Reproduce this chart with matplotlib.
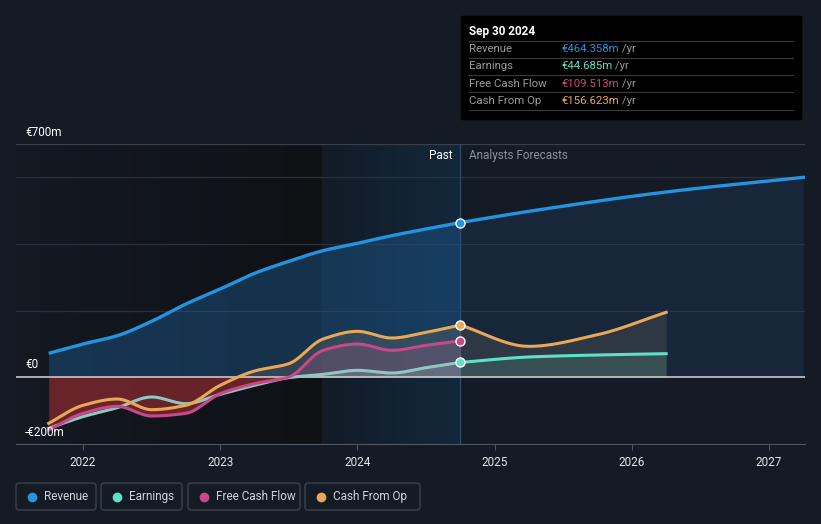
import matplotlib
matplotlib.use("Agg")
import matplotlib.pyplot as plt
import numpy as np
from matplotlib.patches import FancyBboxPatch, Rectangle

plt.rcParams['font.family'] = ['Roboto', 'DejaVu Sans']

# quarterly history (fraction of year), values in EUR m
past_dates = [2021.75, 2022.0, 2022.25, 2022.5, 2022.75, 2023.0, 2023.25,
              2023.5, 2023.75, 2024.0, 2024.25, 2024.5, 2024.75]
revenue = [72, 100, 125, 168, 220, 265, 312, 348, 380, 402, 425, 445, 464.358]
earnings = [-153, -118, -91, -59, -79, -51, -24, -1, 9, 21, 13, 29, 44.685]
fcf = [-158, -108, -87, -116, -108, -49, -19, 1, 81, 100, 81, 96, 109.513]
cfo = [-138, -84, -65, -97, -84, -24, 19, 41, 115, 138, 118, 135, 156.623]

# analyst forecasts
rev_fc_dates = [2024.75, 2025.25, 2026.25, 2027.25]
rev_fc = [464.358, 498, 556, 600]
earn_fc_dates = [2024.75, 2025.25, 2025.75, 2026.25]
earn_fc = [44.685, 61, 67, 71]
cfo_fc_dates = [2024.75, 2025.25, 2025.75, 2026.25]
cfo_fc = [156.623, 93, 128, 195]

years = [2022, 2023, 2024, 2025, 2026, 2027]
now = 2024.75

C_REV = '#2394df'
C_EARN = '#5fe0c8'
C_FCF = '#c8488a'
C_CFO = '#e8a857'
BG = '#151b25'


def smooth(xs, ys, n=30):
    # monotone cubic (Fritsch-Carlson) for drawing smooth lines
    xs = np.asarray(xs, float)
    ys = np.asarray(ys, float)
    h = np.diff(xs)
    d = np.diff(ys) / h
    m = np.zeros_like(ys)
    m[0], m[-1] = d[0], d[-1]
    for i in range(1, len(xs) - 1):
        if d[i - 1] * d[i] > 0:
            w1 = 2 * h[i] + h[i - 1]
            w2 = h[i] + 2 * h[i - 1]
            m[i] = (w1 + w2) / (w1 / d[i - 1] + w2 / d[i])
    ox, oy = [], []
    for i in range(len(xs) - 1):
        t = np.linspace(0, 1, n, endpoint=False)
        h00 = 2 * t**3 - 3 * t**2 + 1
        h10 = t**3 - 2 * t**2 + t
        h01 = -2 * t**3 + 3 * t**2
        h11 = t**3 - t**2
        ox.append(xs[i] + t * h[i])
        oy.append(h00 * ys[i] + h10 * h[i] * m[i] + h01 * ys[i + 1] + h11 * h[i] * m[i + 1])
    ox.append([xs[-1]])
    oy.append([ys[-1]])
    return np.concatenate(ox), np.concatenate(oy)


fig = plt.figure(figsize=(8.21, 5.24), dpi=100)
fig.patch.set_facecolor(BG)
ax = fig.add_axes([16 / 821, 80 / 524, 789 / 821, 300 / 524])
ax.set_facecolor(BG)
ax.set_xlim(2021.512, 2027.262)
ax.set_ylim(-200, 700)

# background regions
band_start = 2023.745
grad = np.linspace(0, 1, 256).reshape(1, -1)
dark = matplotlib.colors.LinearSegmentedColormap.from_list('d', ['#141922', '#0f1115'])
ax.imshow(grad, extent=[2021.512, band_start, -200, 700], aspect='auto', cmap=dark, zorder=0)
blue = matplotlib.colors.LinearSegmentedColormap.from_list('b', ['#121b26', '#13283c'])
ax.imshow(grad, extent=[band_start, now, -200, 700], aspect='auto', cmap=blue, zorder=0)

for g in [200, 400, 600]:
    ax.axhline(g, color='#2a313b', lw=0.9, zorder=1)
ax.axhline(700, color='#3a404a', lw=0.9, zorder=1)
ax.axvline(now, color='#2b4a68', lw=1.0, zorder=2)

# revenue
rx, ry = smooth(past_dates, revenue)
fx, fy = smooth(rev_fc_dates, rev_fc)
ax.fill_between(rx, 0, ry, color='#1d5a8f', alpha=0.45, lw=0, zorder=2)
ax.fill_between(fx, 0, fy, color='#1d4a78', alpha=0.25, lw=0, zorder=2)

ex, ey = smooth(past_dates, earnings)
px, py = smooth(past_dates, fcf)
cx, cy = smooth(past_dates, cfo)
ax.fill_between(cx, 0, cy, where=cy > 0, color='#9a8a70', alpha=0.22, lw=0, zorder=3)
ax.fill_between(px, 0, py, where=py > 0, color='#c86090', alpha=0.22, lw=0, zorder=3)
ax.fill_between(ex, 0, ey, where=ey > 0, color='#a0d0c8', alpha=0.22, lw=0, zorder=3)
low = np.minimum(np.minimum(ey, py), cy)
ax.fill_between(ex, 0, low, where=low < 0, color='#8e2a30', alpha=0.7, lw=0, zorder=3)

efx, efy = smooth(earn_fc_dates, earn_fc)
cfx, cfy = smooth(cfo_fc_dates, cfo_fc)
ax.fill_between(cfx, 0, cfy, color='#5a5a5a', alpha=0.35, lw=0, zorder=3)
ax.fill_between(efx, 0, efy, color='#4a7a70', alpha=0.35, lw=0, zorder=3)

ax.axhline(0, color='#c8c8c8', lw=1.2, zorder=4)

ax.plot(rx, ry, color=C_REV, lw=2.4, zorder=6, solid_capstyle='butt')
ax.plot(fx, fy, color=C_REV, lw=2.4, zorder=6)
ax.plot(ex, ey, color='#8fc8c0', lw=2.2, zorder=5)
ax.plot(efx, efy, color=C_EARN, lw=2.2, zorder=5)
ax.plot(px, py, color=C_FCF, lw=2.2, zorder=5)
ax.plot(cx, cy, color=C_CFO, lw=2.2, zorder=5)
ax.plot(cfx, cfy, color=C_CFO, lw=2.2, zorder=5)

for v, c in [(revenue[-1], C_REV), (earnings[-1], C_EARN), (fcf[-1], C_FCF), (cfo[-1], C_CFO)]:
    ax.plot([now], [v], 'o', ms=6.5, mfc=c, mec='white', mew=1.0, zorder=8)

ax.text(now - 0.06, 665, 'Past', color='white', fontsize=8.5, ha='right', va='center', zorder=9)
ax.text(now + 0.06, 665, 'Analysts Forecasts', color='#8a9099', fontsize=8.5, ha='left', va='center', zorder=9)

ax.set_xticks(years)
ax.set_xticklabels([str(y) for y in years], color='#e6e6e6', fontsize=8.5)
ax.tick_params(axis='x', length=4, color='#505660', pad=5)
ax.set_yticks([])
for s in ['left', 'right', 'top']:
    ax.spines[s].set_visible(False)
ax.spines['bottom'].set_color('#505660')

# overlay in pixel coordinates for labels, tooltip and legend
ov = fig.add_axes([0, 0, 1, 1], zorder=10)
ov.set_xlim(0, 821)
ov.set_ylim(524, 0)
ov.axis('off')
ov.patch.set_alpha(0)

ov.text(25, 132, '€700m', color='white', fontsize=8.5, va='center')
ov.text(25, 365, '€0', color='white', fontsize=8.5, va='center')
ov.text(25, 432, '-€200m', color='white', fontsize=8.5, va='center')

ov.add_patch(Rectangle((461, 16), 340, 103, color='black', zorder=1))
ov.text(469, 31, 'Sep 30 2024', color='white', fontsize=8.5, fontweight='bold', va='center', zorder=2)
rows = [('Revenue', '€464.358m', C_REV), ('Earnings', '€44.685m', C_EARN),
        ('Free Cash Flow', '€109.513m', C_FCF), ('Cash From Op', '€156.623m', C_CFO)]
for i, (lab, val, c) in enumerate(rows):
    y = 49 + i * 17.3
    ov.plot([469, 793], [y - 8.5, y - 8.5], color='#3a3a3a', lw=0.8, zorder=2)
    ov.text(469, y, lab, color='#9a9a9a', fontsize=8.2, va='center', zorder=2)
    t = ov.text(561, y, val, color=c, fontsize=8.2, va='center', zorder=2)
    ov.annotate(' /yr', xycoords=t, xy=(1, 0.5), va='center', color='#9a9a9a', fontsize=8.2, zorder=2)
ov.plot([469, 793], [110, 110], color='#3a3a3a', lw=0.8, zorder=2)

legend = [('Revenue', C_REV, 16, 80), ('Earnings', C_EARN, 101, 81),
          ('Free Cash Flow', C_FCF, 188, 112), ('Cash From Op', C_CFO, 305, 115)]
for lab, c, x0, w in legend:
    ov.add_patch(FancyBboxPatch((x0, 483), w, 27, boxstyle='round,pad=0,rounding_size=3',
                                fc='none', ec='#3c424c', lw=1.0))
    ov.plot([x0 + 16], [496.5], 'o', ms=6, color=c)
    ov.text(x0 + 28, 496.5, lab, color='#d0d3d8', fontsize=8.5, va='center')

fig.savefig('out.png', dpi=100, facecolor=BG)
